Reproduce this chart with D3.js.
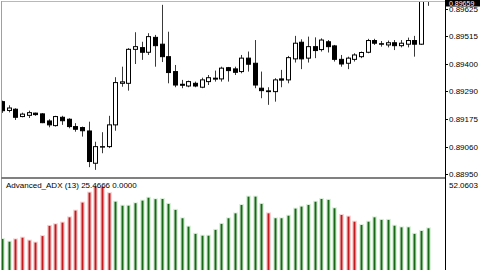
<!DOCTYPE html>
<html>
<head>
<meta charset="utf-8">
<script src="https://d3js.org/d3.v7.min.js"></script>
<style>
  body { margin: 0; background: #fff; }
  svg { display: block; font-family: "Liberation Sans", Arial, sans-serif; }
</style>
</head>
<body>
<script>
// candles: open, high, low, close
const opens  = [0.89246,0.89210,0.89215,0.89185,0.89190,0.89199,0.89196,0.89167,0.89148,0.89182,
                0.89174,0.89144,0.89140,0.89126,0.88994,0.89060,0.89062,0.89151,0.89321,0.89321,
                0.89460,0.89467,0.89448,0.89509,0.89481,0.89430,0.89369,0.89317,0.89310,0.89321,
                0.89305,0.89328,0.89338,0.89339,0.89385,0.89380,0.89369,0.89424,0.89403,0.89301,
                0.89290,0.89287,0.89339,0.89335,0.89421,0.89489,0.89424,0.89471,0.89459,0.89491,
                0.89474,0.89419,0.89403,0.89419,0.89430,0.89448,0.89496,0.89483,0.89478,0.89487,
                0.89475,0.89481,0.89496,0.89481,0.89668];
const highs  = [0.89250,0.89231,0.89219,0.89201,0.89209,0.89201,0.89199,0.89174,0.89188,0.89188,
                0.89178,0.89158,0.89144,0.89164,0.89082,0.89121,0.89188,0.89346,0.89389,0.89465,
                0.89530,0.89491,0.89526,0.89519,0.89642,0.89532,0.89396,0.89335,0.89332,0.89328,
                0.89344,0.89355,0.89373,0.89389,0.89388,0.89389,0.89437,0.89451,0.89498,0.89369,
                0.89305,0.89342,0.89376,0.89433,0.89515,0.89501,0.89512,0.89509,0.89505,0.89498,
                0.89478,0.89437,0.89430,0.89444,0.89451,0.89503,0.89503,0.89494,0.89496,0.89498,
                0.89498,0.89508,0.89515,0.89700,0.89680];
const lows   = [0.89200,0.89202,0.89171,0.89182,0.89179,0.89188,0.89158,0.89141,0.89144,0.89151,
                0.89137,0.89123,0.89103,0.88978,0.88967,0.89035,0.89056,0.89127,0.89307,0.89291,
                0.89400,0.89417,0.89437,0.89389,0.89408,0.89321,0.89305,0.89301,0.89305,0.89305,
                0.89301,0.89314,0.89328,0.89328,0.89328,0.89355,0.89362,0.89369,0.89301,0.89260,
                0.89233,0.89246,0.89305,0.89321,0.89406,0.89379,0.89406,0.89424,0.89451,0.89447,
                0.89410,0.89389,0.89379,0.89410,0.89424,0.89444,0.89478,0.89471,0.89468,0.89457,
                0.89468,0.89468,0.89430,0.89478,0.89638];
const closes = [0.89209,0.89220,0.89182,0.89195,0.89201,0.89193,0.89160,0.89151,0.89185,0.89168,
                0.89144,0.89133,0.89127,0.89001,0.89062,0.89062,0.89151,0.89324,0.89327,0.89460,
                0.89471,0.89448,0.89512,0.89475,0.89430,0.89365,0.89314,0.89313,0.89328,0.89310,
                0.89335,0.89344,0.89342,0.89383,0.89373,0.89366,0.89424,0.89399,0.89314,0.89291,
                0.89287,0.89335,0.89334,0.89426,0.89485,0.89421,0.89471,0.89455,0.89498,0.89471,
                0.89419,0.89400,0.89424,0.89437,0.89447,0.89496,0.89485,0.89482,0.89487,0.89475,
                0.89485,0.89496,0.89481,0.89672,0.89659];

// indicator histogram
const adx = [19.6,18.1,19.4,20.3,18.7,17.6,21.2,26.8,27.7,28.6,
             31.5,35.2,39.6,45.1,48.4,48.4,44.8,40.1,37.9,37.9,
             39.3,40.7,42.3,41.5,41.6,38.9,35.6,31.0,26.4,22.4,
             21.4,21.4,24.6,27.9,31.0,33.7,38.3,42.9,42.9,38.9,
             33.7,31.0,31.0,32.4,36.3,37.4,38.3,40.1,41.6,41.1,
             36.5,32.8,31.9,29.1,27.3,29.1,31.5,30.1,30.1,26.9,
             26.0,26.0,22.4,24.0,25.4666];
const adxDir = "ggrrrrrrrrrrrrrrrgggggggggggggggggggggggrggggggggggrrrgggggggggggg";

const priceTicks = ["0.89625","0.89515","0.89400","0.89290","0.89175","0.89060","0.88950"];
const lastPrice = "0.89659";
const adxMax = 52.0603;
const adxTitle = "Advanced_ADX (13) 25.4666 0.0000";

const W = 480, H = 270;
const svg = d3.select("body").append("svg").attr("width", W).attr("height", H);

const x = d3.scaleLinear().domain([0, 64]).range([2.7, 428]);
const y = d3.scaleLinear().domain([0.88950, 0.89625]).range([174, 9]);
const ya = d3.scaleLinear().domain([0, adxMax]).range([274.6, 180]);

svg.append("defs").append("clipPath").attr("id", "main")
  .append("rect").attr("x", 2).attr("y", 2).attr("width", 443).attr("height", 175);
svg.append("defs").append("clipPath").attr("id", "sub")
  .append("rect").attr("x", 2).attr("y", 179).attr("width", 443).attr("height", 95);

// candles
const cg = svg.append("g").attr("clip-path", "url(#main)");
const idx = d3.range(opens.length);
cg.selectAll("line.wick").data(idx).enter().append("line")
  .attr("x1", i => Math.floor(x(i)) + 0.5).attr("x2", i => Math.floor(x(i)) + 0.5)
  .attr("y1", i => y(highs[i])).attr("y2", i => y(lows[i]))
  .attr("stroke", "#3a3a3a").attr("stroke-width", 1);
cg.selectAll("rect.body").data(idx).enter().append("rect")
  .attr("x", i => Math.floor(x(i)) - 1.5)
  .attr("width", 4)
  .attr("y", i => y(Math.max(opens[i], closes[i])))
  .attr("height", i => Math.max(0.5, Math.abs(y(opens[i]) - y(closes[i]))))
  .attr("fill", i => closes[i] >= opens[i] ? "#fff" : "#000")
  .attr("stroke", "#000").attr("stroke-width", 1);

// histogram
const ag = svg.append("g").attr("clip-path", "url(#sub)");
const colOf = i => adxDir[i] === "r" ? "#c21a1f" : "#186818";
const haloOf = i => adxDir[i] === "r" ? "#f7c9c9" : "#d3eed3";
ag.selectAll("rect.halo").data(idx).enter().append("rect")
  .attr("x", i => Math.floor(x(i)) - 2).attr("width", 5)
  .attr("y", i => ya(adx[i]) - 1).attr("height", i => ya(0) - ya(adx[i]) + 1)
  .attr("fill", haloOf).attr("opacity", 0.8);
ag.selectAll("rect.bar").data(idx).enter().append("rect")
  .attr("x", i => Math.floor(x(i)) - 0.5).attr("width", 2)
  .attr("y", i => ya(adx[i])).attr("height", i => ya(0) - ya(adx[i]))
  .attr("fill", colOf);

// frames
svg.append("line").attr("x1", 1).attr("x2", 445).attr("y1", 1.5).attr("y2", 1.5)
  .attr("stroke", "#b8b8b8");
svg.append("line").attr("x1", 1.5).attr("x2", 1.5).attr("y1", 1).attr("y2", H)
  .attr("stroke", "#a0a0a0");
svg.append("rect").attr("x", 1).attr("y", 177).attr("width", 444).attr("height", 2)
  .attr("fill", "#808080");
svg.append("line").attr("x1", 445.5).attr("x2", 445.5).attr("y1", 0).attr("y2", H)
  .attr("stroke", "#000");

// price axis
const ax = svg.append("g");
ax.selectAll("line").data(priceTicks).enter().append("line")
  .attr("x1", 445).attr("x2", 448)
  .attr("y1", d => Math.round(y(+d)) + 0.5).attr("y2", d => Math.round(y(+d)) + 0.5)
  .attr("stroke", "#000");
ax.selectAll("text").data(priceTicks).enter().append("text")
  .attr("x", 449).attr("y", d => y(+d) + 3)
  .attr("font-size", 8).attr("fill", "#000").text(d => d);

// current price box
svg.append("rect").attr("x", 446).attr("y", 0).attr("width", 34).attr("height", 6.5).attr("fill", "#000");
svg.append("text").attr("x", 449).attr("y", 6).attr("font-size", 7).attr("fill", "#fff").text(lastPrice);

// indicator labels
svg.append("text").attr("x", 449).attr("y", 187.5).attr("font-size", 8).attr("fill", "#000").text(adxMax.toFixed(4));
svg.append("text").attr("x", 6).attr("y", 188).attr("font-size", 8).attr("fill", "#000").text(adxTitle);
</script>
</body>
</html>
